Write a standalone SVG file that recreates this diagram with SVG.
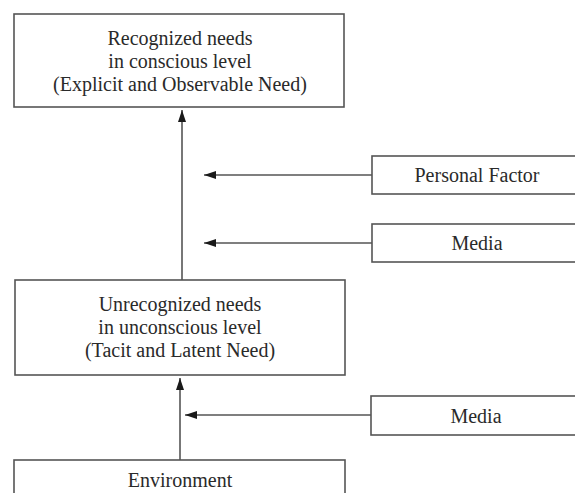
<svg xmlns="http://www.w3.org/2000/svg" width="575" height="493" viewBox="0 0 575 493">
  <style>
    .box { fill: #ffffff; stroke: #555555; stroke-width: 1.6; }
    .lbl { font-family: "Liberation Serif", "Times New Roman", serif; font-size: 20px; fill: #2a2a2a; text-anchor: middle; }
    .conn { stroke: #555555; stroke-width: 1.6; fill: none; marker-end: url(#head); }
  </style>
  <defs>
    <marker id="head" viewBox="0 0 12 8" refX="12" refY="4" markerWidth="12" markerHeight="8" markerUnits="userSpaceOnUse" orient="auto">
      <path d="M0,0 L12,4 L0,8 Z" fill="#1a1a1a"/>
    </marker>
  </defs>
  <rect width="575" height="493" fill="#ffffff"/>

  <g id="connectors">
    <line class="conn" x1="182" y1="280" x2="182" y2="110"/>
    <line class="conn" x1="372" y1="175" x2="204" y2="175"/>
    <line class="conn" x1="372" y1="243" x2="204" y2="243"/>
    <line class="conn" x1="180" y1="460" x2="180" y2="378"/>
    <line class="conn" x1="371" y1="415" x2="185" y2="415"/>
  </g>

  <g id="recognized">
    <rect class="box" x="14" y="14" width="330" height="93"/>
    <text class="lbl" x="180" y="45">Recognized needs</text>
    <text class="lbl" x="180" y="68">in conscious level</text>
    <text class="lbl" x="180" y="91">(Explicit and Observable Need)</text>
  </g>

  <g id="personal-factor">
    <rect class="box" x="372" y="156" width="210" height="38"/>
    <text class="lbl" x="477" y="182">Personal Factor</text>
  </g>

  <g id="media-upper">
    <rect class="box" x="372" y="224" width="210" height="38"/>
    <text class="lbl" x="477" y="250">Media</text>
  </g>

  <g id="unrecognized">
    <rect class="box" x="15" y="280" width="330" height="95"/>
    <text class="lbl" x="180" y="311">Unrecognized needs</text>
    <text class="lbl" x="180" y="334">in unconscious level</text>
    <text class="lbl" x="180" y="357">(Tacit and Latent Need)</text>
  </g>

  <g id="media-lower">
    <rect class="box" x="371" y="396" width="210" height="39"/>
    <text class="lbl" x="476" y="423">Media</text>
  </g>

  <g id="environment">
    <rect class="box" x="14" y="460" width="331" height="40"/>
    <text class="lbl" x="180" y="487">Environment</text>
  </g>
</svg>
